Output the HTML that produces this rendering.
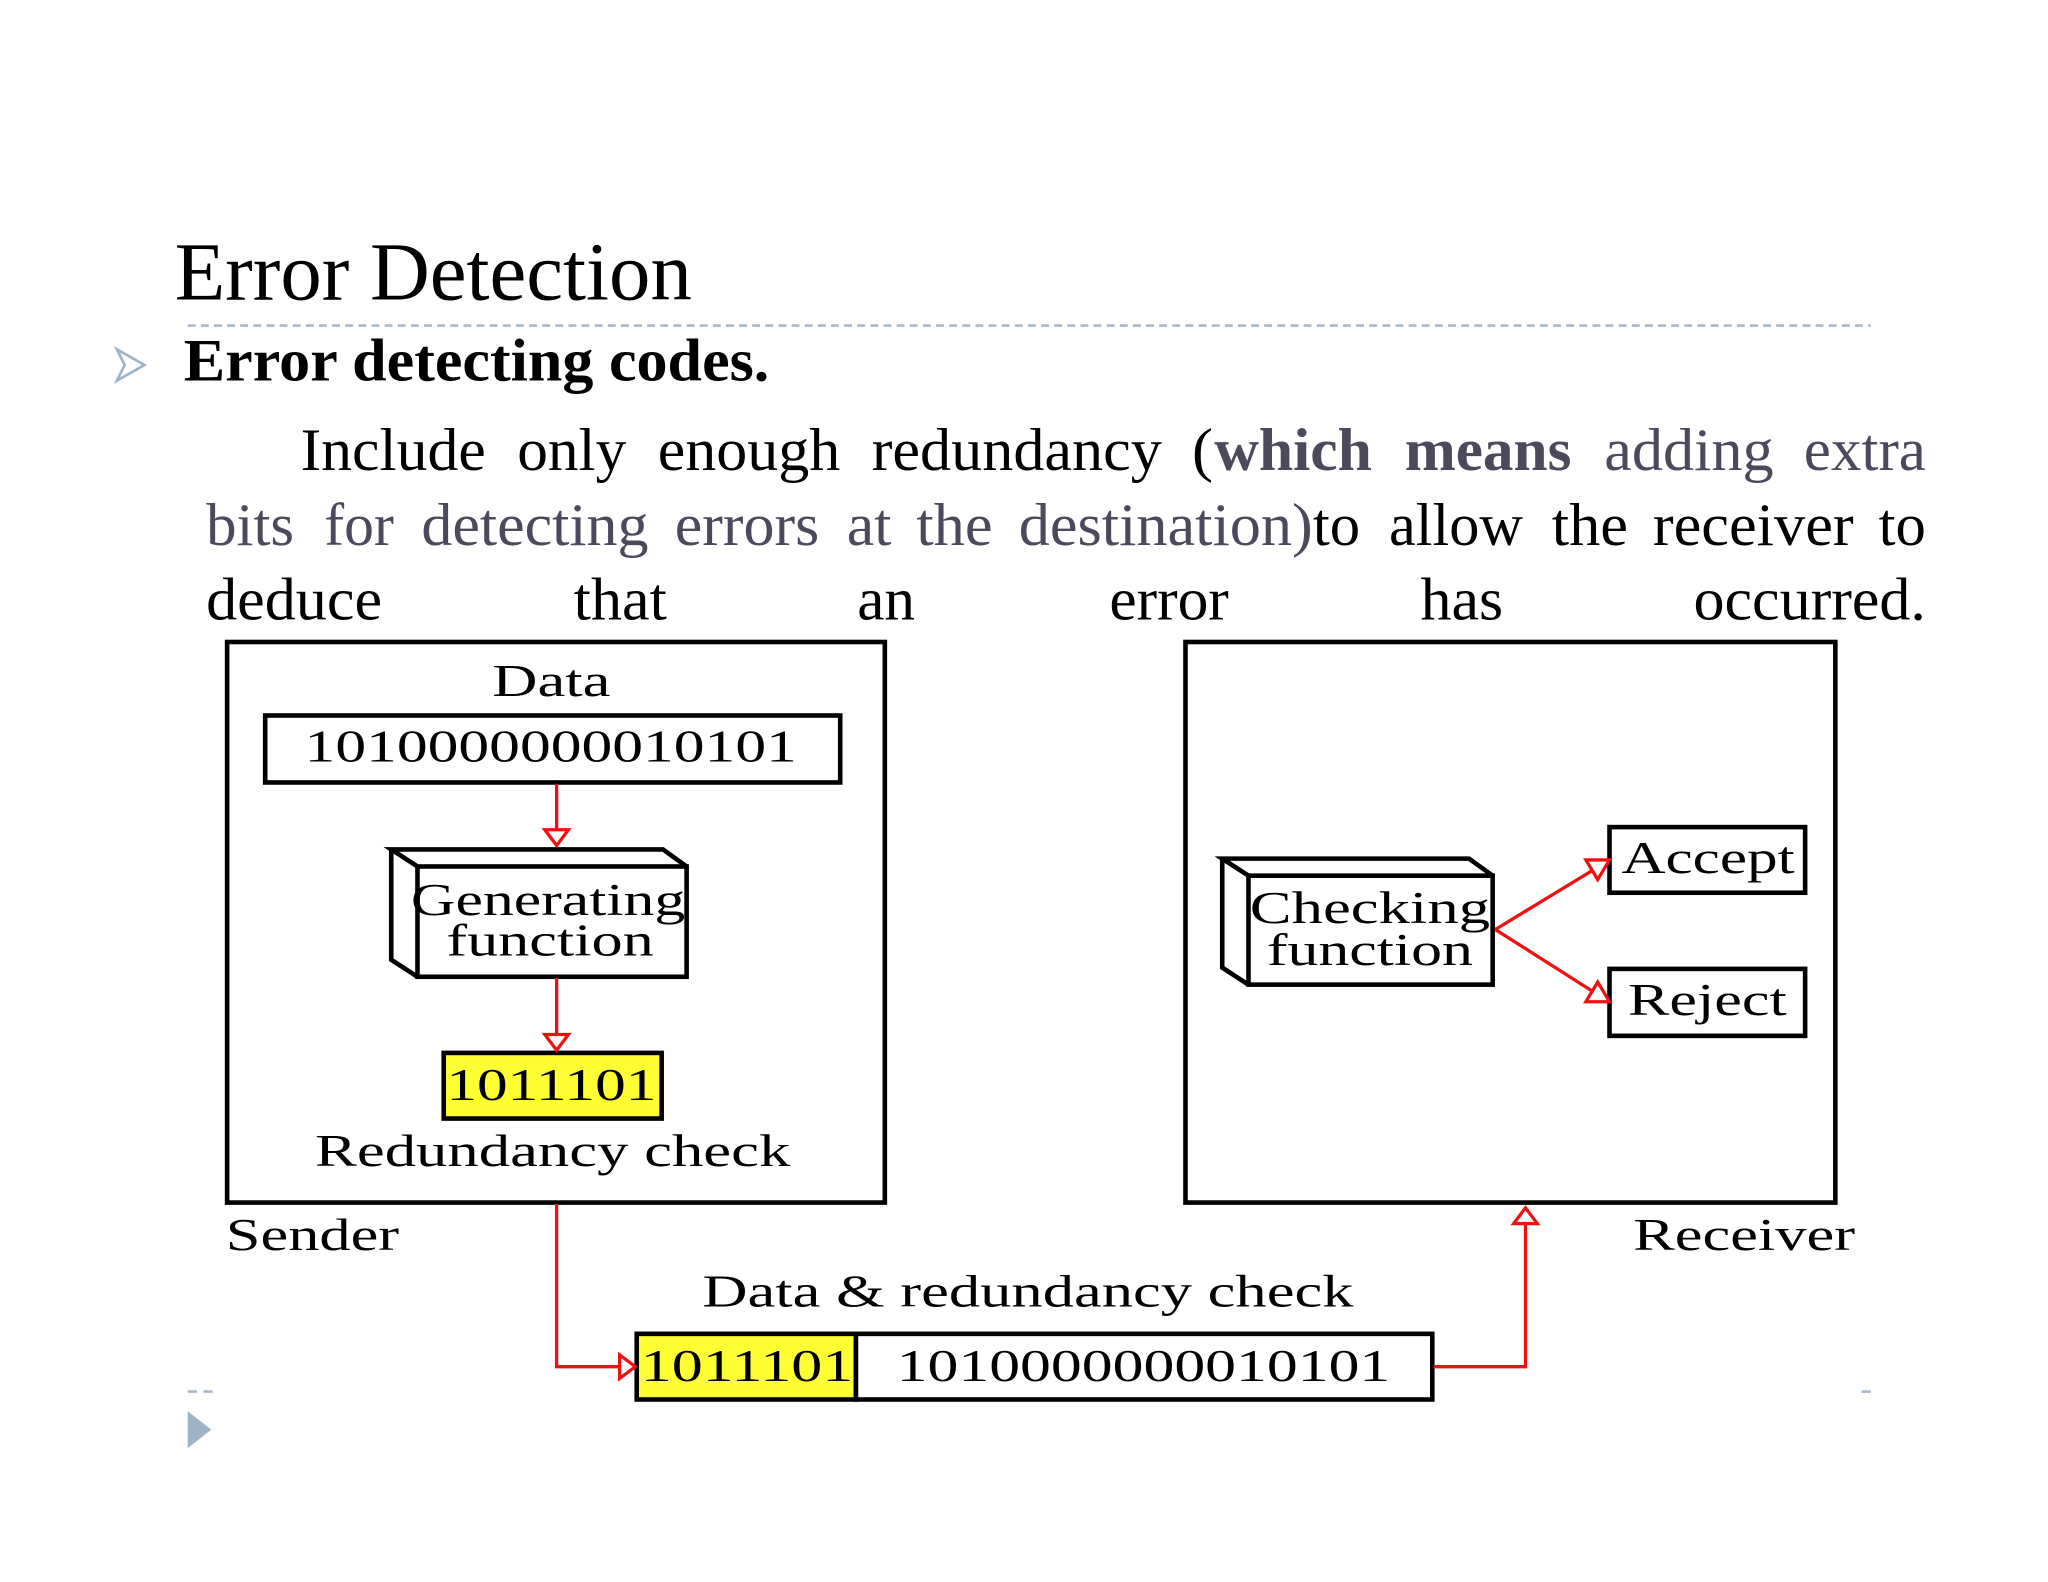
<!DOCTYPE html>
<html><head><meta charset="utf-8"><style>
html,body{margin:0;padding:0;background:#fff;}
svg{display:block;}
text{font-family:"Liberation Serif",serif;}
</style></head><body>
<svg width="2048" height="1582" viewBox="0 0 1560 1205" xmlns="http://www.w3.org/2000/svg">
<rect width="1560" height="1205" fill="#fff"/>
<text x="133" y="228" font-size="63" textLength="394" lengthAdjust="spacingAndGlyphs">Error Detection</text>
<line x1="143" y1="248" x2="1425" y2="248" stroke="#a9b9cc" stroke-width="2" stroke-dasharray="6,4"/>
<polygon points="89,266 110,278 89,290 95,278" fill="none" stroke="#9eb3c8" stroke-width="2"/>
<text x="140" y="290" font-size="46" font-weight="bold" textLength="446" lengthAdjust="spacingAndGlyphs">Error detecting codes.</text>
<g font-size="46">
<text x="229" y="358" textLength="141" lengthAdjust="spacingAndGlyphs">Include</text>
<text x="394" y="358" textLength="83" lengthAdjust="spacingAndGlyphs">only</text>
<text x="501" y="358" textLength="139" lengthAdjust="spacingAndGlyphs">enough</text>
<text x="664" y="358" textLength="221" lengthAdjust="spacingAndGlyphs">redundancy</text>
<text x="908" y="358" textLength="16" lengthAdjust="spacingAndGlyphs">(</text>
<text x="925" y="358" textLength="120" lengthAdjust="spacingAndGlyphs" font-weight="bold" fill="#4a4a5c">which</text>
<text x="1070" y="358" textLength="127" lengthAdjust="spacingAndGlyphs" font-weight="bold" fill="#4a4a5c">means</text>
<text x="1222" y="358" textLength="129" lengthAdjust="spacingAndGlyphs" fill="#4a4a5c">adding</text>
<text x="1374" y="358" textLength="93" lengthAdjust="spacingAndGlyphs" fill="#4a4a5c">extra</text>
<g fill="#4a4a5c">
<text x="157" y="415" textLength="67" lengthAdjust="spacingAndGlyphs">bits</text>
<text x="247" y="415" textLength="53" lengthAdjust="spacingAndGlyphs">for</text>
<text x="321" y="415" textLength="173" lengthAdjust="spacingAndGlyphs">detecting</text>
<text x="514" y="415" textLength="110" lengthAdjust="spacingAndGlyphs">errors</text>
<text x="645" y="415" textLength="34" lengthAdjust="spacingAndGlyphs">at</text>
<text x="698" y="415" textLength="58" lengthAdjust="spacingAndGlyphs">the</text>
<text x="776" y="415" textLength="224" lengthAdjust="spacingAndGlyphs">destination)</text>
</g>
<text x="1000" y="415" textLength="36" lengthAdjust="spacingAndGlyphs">to</text>
<text x="1058" y="415" textLength="102" lengthAdjust="spacingAndGlyphs">allow</text>
<text x="1182" y="415" textLength="58" lengthAdjust="spacingAndGlyphs">the</text>
<text x="1259" y="415" textLength="153" lengthAdjust="spacingAndGlyphs">receiver</text>
<text x="1431" y="415" textLength="36" lengthAdjust="spacingAndGlyphs">to</text>
<text x="157" y="472" textLength="134" lengthAdjust="spacingAndGlyphs">deduce</text>
<text x="437" y="472" textLength="71" lengthAdjust="spacingAndGlyphs">that</text>
<text x="653" y="472" textLength="44" lengthAdjust="spacingAndGlyphs">an</text>
<text x="845" y="472" textLength="91" lengthAdjust="spacingAndGlyphs">error</text>
<text x="1082" y="472" textLength="63" lengthAdjust="spacingAndGlyphs">has</text>
<text x="1290" y="472" textLength="177" lengthAdjust="spacingAndGlyphs">occurred.</text>
</g>

<g fill="none" stroke="#000" stroke-width="3.5">
<rect x="173" y="489" width="501" height="427"/>
<rect x="903" y="489" width="495" height="427"/>
<rect x="202" y="545" width="438" height="51"/>
<rect x="318" y="660" width="205" height="84"/>
<polyline points="318,660 298,647 505,647 523,660"/>
<polyline points="298,647 298,731 318,744"/>
<rect x="951" y="667" width="186" height="83"/>
<polyline points="951,667 931,654 1119,654 1137,667"/>
<polyline points="931,654 931,737 951,750"/>
<rect x="1226" y="630" width="149" height="50"/>
<rect x="1226" y="738" width="149" height="51"/>
</g>
<rect x="338" y="802" width="166" height="50" fill="#ffff33" stroke="#000" stroke-width="3.5"/>
<rect x="485" y="1016" width="167" height="50" fill="#ffff33" stroke="#000" stroke-width="3.5"/>
<rect x="652" y="1016" width="439" height="50" fill="#fff" stroke="#000" stroke-width="3.5"/>

<g fill="none" stroke="#ee1111" stroke-width="2.5">
<line x1="424" y1="597" x2="424" y2="632"/>
<polygon points="415,632 433,632 424,644" fill="#fff"/>
<line x1="424" y1="745" x2="424" y2="788"/>
<polygon points="415,788 433,788 424,800" fill="#fff"/>
<polyline points="424,917 424,1041 472,1041"/>
<polygon points="472,1032 472,1050 484,1041" fill="#fff"/>
<polyline points="1092,1041 1162,1041 1162,932"/>
<polygon points="1153,932 1171,932 1162,920" fill="#fff"/>
<line x1="1139" y1="708" x2="1213" y2="663"/>
<polygon points="1208,655 1217,670 1226,655" fill="#fff"/>
<line x1="1139" y1="708" x2="1213" y2="755"/>
<polygon points="1208,763 1217,748 1226,763" fill="#fff"/>
</g>

<g font-size="35">
<text x="375" y="530" textLength="90" lengthAdjust="spacingAndGlyphs">Data</text>
<text x="232" y="580" textLength="375" lengthAdjust="spacingAndGlyphs">1010000000010101</text>
<text x="313" y="697" textLength="209" lengthAdjust="spacingAndGlyphs">Generating</text>
<text x="340" y="728" textLength="158" lengthAdjust="spacingAndGlyphs">function</text>
<text x="340" y="838" textLength="160" lengthAdjust="spacingAndGlyphs">1011101</text>
<text x="240" y="888" textLength="362" lengthAdjust="spacingAndGlyphs">Redundancy check</text>
<text x="172" y="952" textLength="132" lengthAdjust="spacingAndGlyphs">Sender</text>
<text x="535" y="995" textLength="496" lengthAdjust="spacingAndGlyphs">Data &amp; redundancy check</text>
<text x="488" y="1052" textLength="162" lengthAdjust="spacingAndGlyphs">1011101</text>
<text x="683" y="1052" textLength="376" lengthAdjust="spacingAndGlyphs">1010000000010101</text>
<text x="1244" y="952" textLength="169" lengthAdjust="spacingAndGlyphs">Receiver</text>
<text x="952" y="703" textLength="183" lengthAdjust="spacingAndGlyphs">Checking</text>
<text x="965" y="735" textLength="157" lengthAdjust="spacingAndGlyphs">function</text>
<text x="1235" y="665" textLength="132" lengthAdjust="spacingAndGlyphs">Accept</text>
<text x="1240" y="773" textLength="121" lengthAdjust="spacingAndGlyphs">Reject</text>
</g>

<line x1="143" y1="1060" x2="165" y2="1060" stroke="#a9b9cc" stroke-width="2" stroke-dasharray="7,5"/>
<line x1="1418" y1="1060" x2="1425" y2="1060" stroke="#a9b9cc" stroke-width="2"/>
<polygon points="143,1075 161,1089 143,1103" fill="#9eb3c8"/>
</svg>
</body></html>
